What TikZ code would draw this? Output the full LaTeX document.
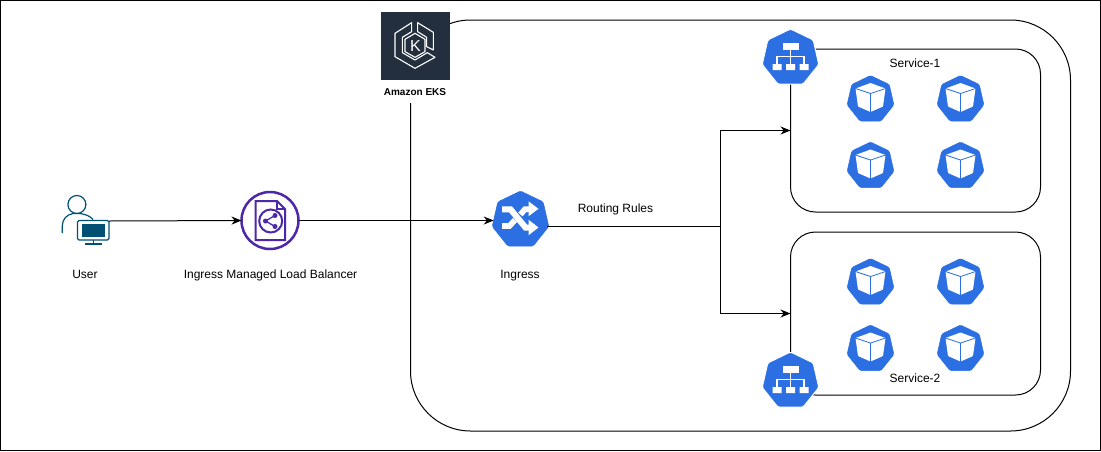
\documentclass[tikz,border=0pt]{standalone}
\usepackage{fontspec}
\setmainfont{Liberation Sans}
\usetikzlibrary{shapes.geometric,arrows.meta}
\definecolor{k8s}{HTML}{2B6FE3}
\definecolor{lbpurple}{HTML}{4D27AA}
\definecolor{ekscol}{HTML}{232F3E}
\definecolor{usercol}{HTML}{005073}
\tikzset{
  x=1pt,y=-1pt,
  lbl/.style={font=\fontsize{12}{14}\selectfont,text=black,inner sep=0pt,anchor=base},
  conn/.style={draw=black,line width=1pt,-{Stealth[length=10pt,width=8pt]}},
  plainconn/.style={draw=black,line width=1pt},
  svcbox/.style={draw=black,line width=1pt,rounded corners=25pt,minimum width=250pt,minimum height=163pt,inner sep=0pt,outer sep=0pt},
  hept/.style={regular polygon,regular polygon sides=7,fill=k8s,draw=k8s,line width=.5pt,rounded corners=1.5pt,inner sep=0pt,outer sep=0pt},
  bighept/.style={hept,minimum size=58pt},
  podhept/.style={hept,minimum size=48pt},
  pics/cube/.style={code={
    \fill[white,rounded corners=.7pt] (0,-16.5)--(-15,-11)--(-12.5,7)--(0,12.5)--(12.5,7)--(15,-11)--cycle;
    \draw[k8s,line width=.8pt] (-15,-11)--(0,-6)--(15,-11) (0,-6)--(0,12.5);
  }},
  pics/tree/.style={code={
    \fill[white] (-8,-15) rectangle (8,-8.5);
    \fill[white] (-18,6) rectangle (-9,12) (-4.5,6) rectangle (4.5,12) (9,6) rectangle (18,12);
    \draw[white,line width=1.2pt] (0,-8.5)--(0,6) (-13.5,6)--(-13.5,-1.5)--(13.5,-1.5)--(13.5,6);
  }},
  pics/shuffle/.style={code={
    \draw[white,line width=6pt,line join=miter] (-18.5,-10.7)--(-10,-10.7)--(5,7.5)--(9,7.5);
    \draw[white,line width=5.7pt,line join=miter] (-18.5,5.9)--(-11,5.9)--(-5.5,0);
    \draw[white,line width=5.7pt,line join=miter] (0,-5.5)--(4.5,-10.8)--(9,-10.8);
    \fill[white] (8,-.3)--(18,7.5)--(8,15.3)--cycle;
    \fill[white] (8,-18.7)--(18,-11.2)--(8,-3.7)--cycle;
  }},
  pics/lbdoc/.style={code={
    \draw[lbpurple,line width=2pt,line join=miter] (-14.5,-19)--(7,-19)--(15,-11)--(15,20)--(-14.5,20)--cycle;
    \draw[lbpurple,line width=1.5pt] (7,-19)--(7,-11)--(15,-11);
    \draw[lbpurple,line width=2pt] (.7,1) circle[radius=11.5];
    \draw[lbpurple,line width=1.3pt] (-4.5,1)--(5,-4.5) (-4.5,1)--(5,6.5);
    \fill[lbpurple] (-4.5,1) circle[radius=2.5] (5,-4.5) circle[radius=2.5] (5,6.5) circle[radius=2.5];
  }}
}
\begin{document}
\begin{tikzpicture}
\useasboundingbox (0,0) rectangle (1101,451);
\fill[white] (0,0) rectangle (1101,451);
\draw[black,line width=1.2pt] (.5,.5) rectangle (1100.5,450.2);

% cluster
\node[draw=black,line width=1pt,rounded corners=60pt,minimum width=660pt,minimum height=411pt,inner sep=0pt,outer sep=0pt] (cluster) at (740.5,225.5) {};
\fill[white] (381,80) rectangle (450,102.5);

% EKS icon
\node[fill=ekscol,minimum width=69pt,minimum height=68pt,inner sep=0pt,outer sep=0pt] (eks) at (415.5,46) {};
\begin{scope}[shift={(370,0)},xscale=.3333,yscale=.3333]
  \draw[white,line width=1.1pt,line join=round]
    (125,68)--(75,100)--(75,170)--(135,205)--(195,172)--(172,158)--(135,180)--(97,158)--(97,112)--(125,95)--cycle;
  \draw[white,line width=1.1pt,line join=round]
    (143,68)--(190,97)--(190,150)--(170,140)--(170,112)--(143,95)--cycle;
  \draw[white,line width=1.1pt,line join=round]
    (135,100)--(165,118)--(165,155)--(135,172)--(105,155)--(105,118)--cycle;
\end{scope}
\node[text=white,inner sep=0pt,font=\fontsize{16}{16}\selectfont] (ekskey) at (415.5,46) {K};
\node[inner sep=0pt,anchor=base,font=\bfseries\fontsize{10}{12}\selectfont] (ekslabel) at (415,95.5) {Amazon EKS};

% service boxes
\node[svcbox] (svc1) at (915.5,130.5) {};
\node[svcbox] (svc2) at (915.5,313.5) {};

% user
\node[minimum width=50pt,minimum height=40pt,inner sep=0pt,outer sep=0pt] (user) at (84,221) {};
\draw[usercol,line width=1.2pt] (76.9,204.5) circle[radius=9];
\draw[usercol,line width=1.2pt] (62.3,233) -- (62.3,226) .. controls (62.3,219) and (67,214.5) .. (73,213.5) -- (80,213.5) .. controls (86,214.5) and (90,216) .. (93,219.5);
\fill[white] (77.5,220) rectangle (109,240);
\draw[usercol,line width=1.3pt,rounded corners=1.5pt] (77.5,220.5) rectangle (109,240);
\fill[usercol] (81.5,224) rectangle (105,236.7);
\draw[usercol,line width=1.2pt] (93.5,240)--(93.5,243);
\fill[usercol] (85,242.5) rectangle (102,244.5);

% load balancer
\node[circle,draw=lbpurple,line width=2.5pt,minimum size=57pt,inner sep=0pt,outer sep=0pt] (lb) at (270,220.5) {};
\pic at (270,220) {lbdoc};

% ingress
\node[bighept] (ingress) at (520.5,220) {};
\pic at (520.5,220) {shuffle};

% service heads
\node[bighept,draw=white,line width=1pt] (head1) at (790.5,58) {};
\pic at (790.5,58) {tree};
\node[bighept,draw=white,line width=1pt] (head2) at (790.5,381) {};
\pic at (790.5,381) {tree};

% pods
\foreach \nm/\px/\py in {p1/870.5/99.5,p2/960.5/99.5,p3/870.5/166,p4/960.5/166,p5/870.5/282.5,p6/960.5/282.5,p7/870.5/349,p8/960.5/349}{
  \node[podhept] (\nm) at (\px,\py) {};
  \pic at (\px,\py) {cube};
}

% connectors
\coordinate (junction) at (720.5,226);
\draw[conn] (user.east) -- (lb.west);
\draw[conn] (lb.east) -- (lb.east -| ingress.west);
\draw[plainconn] (ingress.east |- junction) -- (junction);
\draw[conn] (junction) |- (svc1.west);
\draw[conn] (junction) |- (svc2.west);

% labels
\node[lbl] (userlabel) at (85,278) {User};
\node[lbl] (lblabel) at (270.5,278) {Ingress Managed Load Balancer};
\node[lbl] (inglabel) at (520,278) {Ingress};
\node[lbl] (rules) at (615.5,212) {Routing Rules};
\node[lbl] (s1label) at (915,67) {Service-1};
\node[lbl] (s2label) at (915,382) {Service-2};
\end{tikzpicture}
\end{document}
